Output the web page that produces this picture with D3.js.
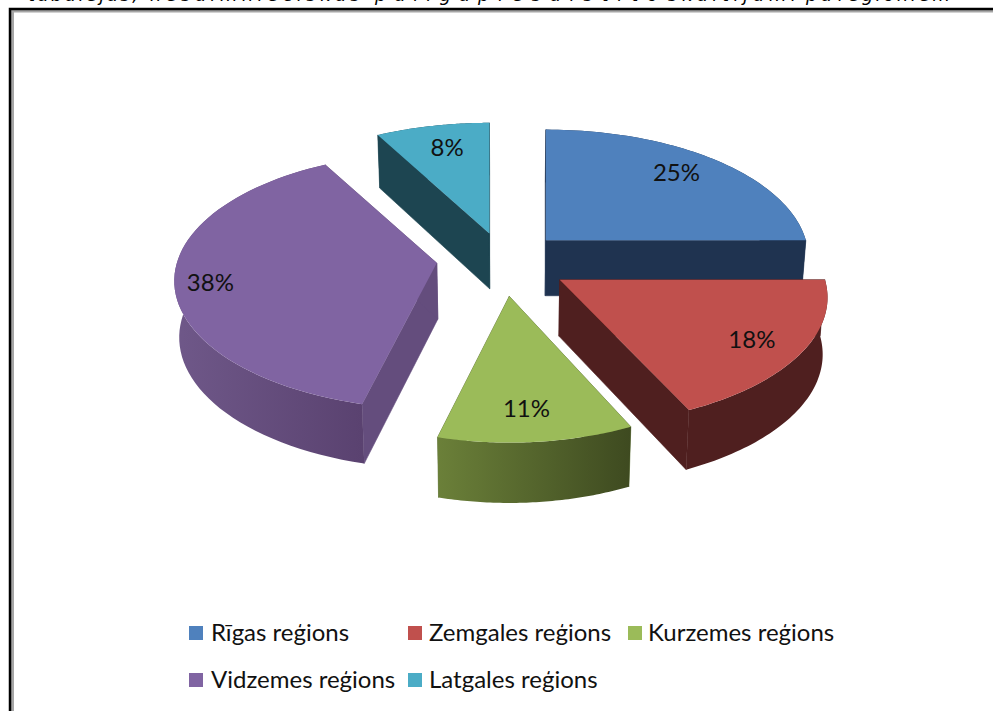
<!DOCTYPE html>
<html>
<head>
<meta charset="utf-8">
<script src="https://cdn.jsdelivr.net/npm/d3@7"></script>
<style>
  html, body { margin: 0; padding: 0; background: #fff; overflow: hidden; }
  text { font-family: Lato, sans-serif; fill: #111; }
</style>
</head>
<body>
<div id="container"></div>
<script>
/* DATA */
const regions = ["Rīgas reģions", "Zemgales reģions", "Kurzemes reģions", "Vidzemes reģions", "Latgales reģions"];
const shares = [25, 18, 11, 38, 8];
const captionWords = ["tabulējas,", "nesaimnieciskās", "palīga", "piesaistīto", "skaitījumi", "pa", "reģioniem"];

/* COLOURS */
const topColors = ["#4f81bd", "#c0504d", "#9bbb59", "#8064a2", "#4bacc6"];
const wallColors = ["#1f3350", "#4f1f1f", "#5d7035", "#644d7d", "#1d4551"];
const arcLeftColors = ["#1f3350", "#4f1f1f", "#6b8039", "#6f5889", "#1d4551"];
const arcRightColors = ["#1f3350", "#4f1f1f", "#3e4a20", "#5a4270", "#1d4551"];

/* CONSTANTS */
const width = 993, height = 711;
const cx = 505, cy = 261;      // pie centre before the slices are pulled apart
const rx = 260, ry = 126;      // ellipse radii
const persp = 0.139;           // nearer part of the pie is drawn bigger
const depth = 56;
const bottomShrink = 0.985;    // bottom rim is a bit narrower than the top
const explode = 0.256;
const drawOrder = [4, 0, 3, 2, 1];
// small hand corrections per slice
const apexNudge = [[-2, 0], [-6, 0], [-3, -2], [-1, -2], [-1, 0]];
const widthScale = [1, 1.02, 0.96, 1, 1];
const labelFrac = [0.78, 0.81, 0.78, 0.87, 0.76];
const labelNudge = [[0, -5], [0, 0], [-5, -2], [2, 4], [1, -5]];
const captionX = [28, 150, 375, 478, 668, 806, 838];
const captionLen = [110, 210, 95, 180, 128, 26, 112];

// angle on the pie -> offset on screen
function project(theta) {
  const u = Math.sin(theta), f = -Math.cos(theta);
  const w = 1 - persp * f;
  return [rx * u / w, ry * f / w];
}

const svg = d3.select("#container")
  .append("svg")
  .attr("width", width)
  .attr("height", height)
  .style("display", "block");

const defs = svg.append("defs");
const line = d3.line();

// caption of the page above, only its lower edge is in the picture
svg.selectAll("text.caption")
  .data(captionWords)
  .join("text")
  .attr("class", "caption")
  .attr("x", (d, i) => captionX[i])
  .attr("y", 1)
  .attr("textLength", (d, i) => captionLen[i])
  .attr("lengthAdjust", "spacing")
  .style("font-family", "'DejaVu Sans'")
  .style("font-style", "italic")
  .style("font-size", "18px")
  .style("fill", "#000")
  .text(d => d);

// frame, it runs off the right and bottom of the picture
svg.append("path")
  .attr("d", "M" + width + ",11 H12.5 V" + height)
  .attr("fill", "none")
  .attr("stroke", "#a6a6a6")
  .attr("stroke-width", 3);
svg.append("path")
  .attr("d", "M" + width + ",9 H10 V" + height)
  .attr("fill", "none")
  .attr("stroke", "#000")
  .attr("stroke-width", 2.5);

/* PIE */
const slices = d3.pie().sort(null).value(d => d)(shares);
const pieG = svg.append("g");

function apexOf(i) {
  const s = slices[i];
  const off = project((s.startAngle + s.endAngle) / 2);
  return [cx + explode * off[0] + apexNudge[i][0], cy + explode * off[1] + apexNudge[i][1]];
}

drawOrder.forEach(i => {
  const s = slices[i];
  const apex = apexOf(i);

  const top = t => {
    const p = project(t);
    return [apex[0] + p[0] * widthScale[i], apex[1] + p[1]];
  };
  // front of the pie is a little deeper than the back
  const under = p => [cx + (p[0] - cx) * bottomShrink, p[1] + depth + 3 * (p[1] - cy) / ry];

  const steps = d3.range(0, 61).map(k => s.startAngle + (s.endAngle - s.startAngle) * k / 60);
  const rim = steps.map(top);

  // radial walls
  [s.startAngle, s.endAngle].forEach(t => {
    const p = top(t);
    pieG.append("path")
      .attr("d", line([apex, p, under(p), under(apex)]) + "Z")
      .attr("fill", wallColors[i])
      .attr("stroke", wallColors[i])
      .attr("stroke-width", 0.6);
  });

  // curved outer wall
  const gradId = "arc" + i;
  const xs = d3.extent(rim, p => p[0]);
  const grad = defs.append("linearGradient")
    .attr("id", gradId)
    .attr("gradientUnits", "userSpaceOnUse")
    .attr("x1", xs[0]).attr("x2", xs[1])
    .attr("y1", 0).attr("y2", 0);
  grad.append("stop").attr("offset", 0).attr("stop-color", arcLeftColors[i]);
  grad.append("stop").attr("offset", 1).attr("stop-color", arcRightColors[i]);

  pieG.append("path")
    .attr("d", line(rim.concat(rim.map(under).reverse())) + "Z")
    .attr("fill", "url(#" + gradId + ")");

  // top face
  pieG.append("path")
    .attr("d", line([apex].concat(rim)) + "Z")
    .attr("fill", topColors[i]);
});

// value labels
slices.forEach((s, i) => {
  const lab = project((s.startAngle + s.endAngle) / 2);
  const apex = apexOf(i);
  svg.append("text")
    .attr("x", apex[0] + labelFrac[i] * lab[0] + labelNudge[i][0])
    .attr("y", apex[1] + labelFrac[i] * lab[1] + labelNudge[i][1])
    .attr("text-anchor", "middle")
    .attr("dominant-baseline", "central")
    .style("font-size", "24px")
    .text(shares[i] + "%");
});

/* LEGEND */
const legendX = d3.scaleOrdinal().domain(regions).range([189, 408, 628, 189, 408]);
const legendY = d3.scaleOrdinal().domain(regions).range([633, 633, 633, 680, 680]);
const legendTextX = [22, 21, 20, 22, 21];

const legend = svg.selectAll("g.legend")
  .data(regions)
  .join("g")
  .attr("class", "legend")
  .attr("transform", d => "translate(" + legendX(d) + "," + legendY(d) + ")");

legend.append("rect")
  .attr("x", 0).attr("y", -7)
  .attr("width", 14).attr("height", 14)
  .attr("fill", (d, i) => topColors[i]);

legend.append("text")
  .attr("x", (d, i) => legendTextX[i])
  .attr("y", -1.5)
  .attr("dominant-baseline", "central")
  .style("font-size", "24px")
  .text(d => d);
</script>
</body>
</html>
